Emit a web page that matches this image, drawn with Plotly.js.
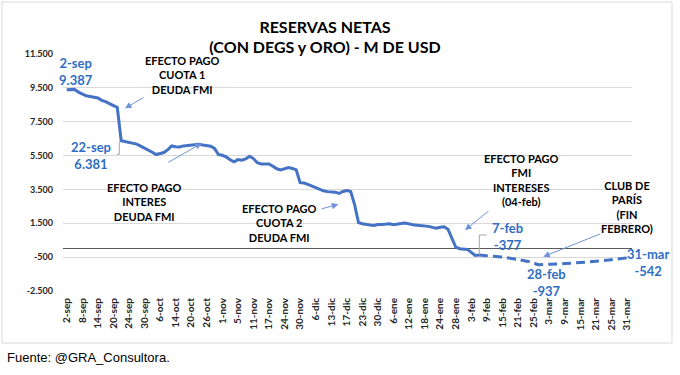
<!DOCTYPE html>
<html>
<head>
<meta charset="utf-8">
<script src="https://cdn.plot.ly/plotly-3.0.1.min.js"></script>
<style>html,body{margin:0;padding:0;background:#fff;}#chart{width:680px;height:375px;}</style>
</head>
<body>
<div id="chart"></div>
<script>
// All business-day categories (category axis, one slot per day)
const allDates = [
"2-sep","3-sep","6-sep","7-sep","8-sep","9-sep","10-sep","13-sep","14-sep","15-sep","16-sep","17-sep",
"20-sep","21-sep","22-sep","23-sep","24-sep","27-sep","28-sep","29-sep","30-sep","1-oct","4-oct","5-oct",
"6-oct","7-oct","12-oct","13-oct","14-oct","15-oct","18-oct","19-oct","20-oct","21-oct","22-oct","25-oct",
"26-oct","27-oct","28-oct","29-oct","1-nov","2-nov","3-nov","4-nov","5-nov","8-nov","9-nov","10-nov",
"11-nov","12-nov","15-nov","16-nov","17-nov","18-nov","19-nov","23-nov","24-nov","25-nov","26-nov","29-nov",
"30-nov","1-dic","2-dic","3-dic","6-dic","7-dic","9-dic","10-dic","13-dic","14-dic","15-dic","16-dic",
"17-dic","20-dic","21-dic","22-dic","23-dic","27-dic","28-dic","29-dic","30-dic","3-ene","4-ene","5-ene",
"6-ene","7-ene","10-ene","11-ene","12-ene","13-ene","14-ene","17-ene","18-ene","19-ene","20-ene","21-ene",
"24-ene","25-ene","26-ene","27-ene","28-ene","31-ene","1-feb","2-feb","3-feb","4-feb","7-feb","8-feb",
"9-feb","10-feb","11-feb","14-feb","15-feb","16-feb","17-feb","18-feb","21-feb","22-feb","23-feb","24-feb",
"25-feb","28-feb","1-mar","2-mar","3-mar","4-mar","7-mar","8-mar","9-mar","10-mar","11-mar","14-mar",
"15-mar","16-mar","17-mar","18-mar","21-mar","22-mar","23-mar","24-mar","25-mar","28-mar","29-mar","30-mar",
"31-mar"];

// Tick labels shown on the x axis
const tickLabels = ["2-sep","8-sep","14-sep","20-sep","24-sep","30-sep","6-oct","14-oct","20-oct","26-oct",
"1-nov","5-nov","11-nov","17-nov","24-nov","30-nov","6-dic","13-dic","17-dic","23-dic","30-dic",
"6-ene","12-ene","18-ene","24-ene","28-ene","3-feb","9-feb","15-feb","21-feb","25-feb",
"3-mar","9-mar","15-mar","21-mar","25-mar","31-mar"];

// Observed series (solid): 2-sep .. 7-feb
const actualDates = allDates.slice(0, allDates.indexOf("7-feb") + 1);
const actualValues = [
9387,9400,9410,9250,9140,9030,8990,8960,8900,8760,8690,8570,
8460,8340,6381,6320,6270,6230,6180,6060,5950,5820,5700,5560,
5600,5680,5850,6070,6020,6010,6070,6090,6110,6150,6170,6120,
6070,6050,5920,5560,5518,5420,5250,5130,5263,5222,5300,5458,
5322,5080,5000,5010,5000,4867,4720,4650,4731,4790,4740,4650,
3900,3880,3800,3700,3620,3480,3420,3370,3346,3340,3260,3380,
3440,3380,2600,1540,1476,1420,1400,1376,1430,1435,1450,1476,
1417,1476,1490,1512,1450,1417,1390,1376,1334,1317,1260,1210,
1270,1290,1150,600,92,0,-20,-44,-220,-400,-377];

// Projection (dashed)
const projDates = ["7-feb","9-feb","15-feb","21-feb","25-feb","28-feb","3-mar","9-mar","15-mar","21-mar","25-mar","31-mar"];
const projValues = [-377,-420,-500,-640,-830,-937,-920,-880,-820,-740,-650,-542];

// Y ticks
const yTickVals = [-2500,-500,1500,3500,5500,7500,9500,11500];
const yTickText = ["-2.500","-500","1.500","3.500","5.500","7.500","9.500","11.500"];

// ---- layout helpers (pixel -> paper) ----
const L = 63, R = 632, T = 54, B = 291;
const px = x => (x - L) / (R - L);
const py = y => (B - y) / (B - T);

const BLUE = '#2F6EC4';
const LINE = '#4472C4';
const ARROW = '#6F93DA';
const FONT = 'Lato, "Open Sans", sans-serif';

function label(text, x, y, color, size) {
  return {xref:'paper', yref:'paper', x:px(x), y:py(y), text:text, showarrow:false,
          xanchor:'center', yanchor:'middle', align:'center',
          font:{family:FONT, size:size, color:color}};
}
function arrow(tipX, tipY, tailX, tailY) {
  return {xref:'paper', yref:'paper', x:px(tipX), y:py(tipY), text:'', showarrow:true,
          ax: tailX - tipX, ay: tailY - tipY, axref:'pixel', ayref:'pixel',
          arrowcolor: ARROW, arrowwidth: 1, arrowhead: 2, arrowsize: 1.3};
}
function path(pts) {
  return 'M ' + pts.map(p => px(p[0]) + ',' + py(p[1])).join(' L ');
}

const annotations = [
  label('<b>2-sep</b><br><b>9.387</b>', 76, 71, BLUE, 13),
  label('<b>22-sep</b><br><b>6.381</b>', 91, 155.5, BLUE, 13),
  label('<b>7-feb</b><br><b>-377</b>', 507, 236.5, BLUE, 13),
  label('<b>28-feb</b><br><b>-937</b>', 546, 282, BLUE, 13),
  label('<b>31-mar</b><br><b>-542</b>', 648, 262.5, BLUE, 13),
  label('<b>EFECTO PAGO</b><br><b>CUOTA 1</b><br><b>DEUDA FMI</b>', 182.5, 74.5, '#000', 11),
  label('<b>EFECTO PAGO</b><br><b>INTERES</b><br><b>DEUDA FMI</b>', 144, 201.7, '#000', 11),
  label('<b>EFECTO PAGO</b><br><b>CUOTA 2</b><br><b>DEUDA FMI</b>', 279, 223, '#000', 11),
  label('<b>EFECTO PAGO</b><br><b>FMI</b><br><b>INTERESES</b><br><b>(04-feb)</b>', 521.7, 180.3, '#000', 11),
  label('<b>CLUB DE</b><br><b>PARÍS</b><br><b>(FIN</b><br><b>FEBRERO)</b>', 627, 207.3, '#000', 11),
  arrow(125, 108.3, 145, 96.7),
  arrow(201.7, 143.3, 166.7, 163.3),
  arrow(338.3, 204.3, 320, 209.3),
  arrow(465, 230, 490, 210),
  arrow(543.3, 256.7, 601.7, 233.3),
  {xref:'paper', yref:'paper', x:px(5), y:py(357), xanchor:'left', yanchor:'middle', showarrow:false,
   text:'Fuente: @GRA_Consultora.', font:{family:'"Liberation Sans", Arial, sans-serif', size:13, color:'#000'}}
];

const shapes = [
  {type:'rect', xref:'paper', yref:'paper', x0:px(2), x1:px(672), y0:py(343), y1:py(2),
   line:{color:'#d9d9d9', width:1}, layer:'below'},
  {type:'path', xref:'paper', yref:'paper', path:path([[116.7,154.3],[119.3,154.3],[119.3,141.7]]),
   line:{color:'#a6a6a6', width:1}},
  {type:'path', xref:'paper', yref:'paper', path:path([[486.7,235],[479.3,235],[479.3,253.3]]),
   line:{color:'#a6a6a6', width:1}}
];

const traces = [
  {x: actualDates, y: actualValues, type:'scatter', mode:'lines',
   line:{color: LINE, width: 3}, hoverinfo:'skip'},
  {x: projDates, y: projValues, type:'scatter', mode:'lines',
   line:{color: LINE, width: 3, dash:'9px,5px', shape:'spline', smoothing:0.6}, hoverinfo:'skip'}
];

const layout = {
  width: 680, height: 375,
  margin: {l: L, r: 680 - R, t: T, b: 375 - B, pad: 0},
  paper_bgcolor: '#fff', plot_bgcolor: '#fff',
  showlegend: false,
  title: {text: '<b>RESERVAS NETAS</b><br><b>(CON DEGS y ORO) - M DE USD</b>',
          x: 325/680, xref: 'container', xanchor: 'center',
          y: 1 - 32.5/375, yref: 'container', yanchor: 'middle',
          font: {family: FONT, size: 16, color: '#000'}},
  xaxis: {type: 'category', categoryorder: 'array', categoryarray: allDates,
          range: [-0.95, 145.3], tickmode: 'array', tickvals: tickLabels, ticktext: tickLabels,
          tickangle: -90, showgrid: false, zeroline: false, showline: false, ticks: '',
          ticklabelstandoff: 4,
          tickfont: {family: FONT, size: 10, color: '#262626', weight: 'bold'}},
  yaxis: {range: [-2500, 11500], tickmode: 'array', tickvals: yTickVals, ticktext: yTickText,
          showgrid: true, gridcolor: '#d9d9d9', gridwidth: 1,
          zeroline: true, zerolinecolor: '#595959', zerolinewidth: 1.5,
          showline: false, ticks: '', ticklabelstandoff: 9,
          tickfont: {family: FONT, size: 9, color: '#262626', weight: 'bold'}},
  annotations: annotations,
  shapes: shapes,
  hovermode: false
};

Plotly.newPlot('chart', traces, layout, {displayModeBar: false, staticPlot: true});
</script>
</body>
</html>
